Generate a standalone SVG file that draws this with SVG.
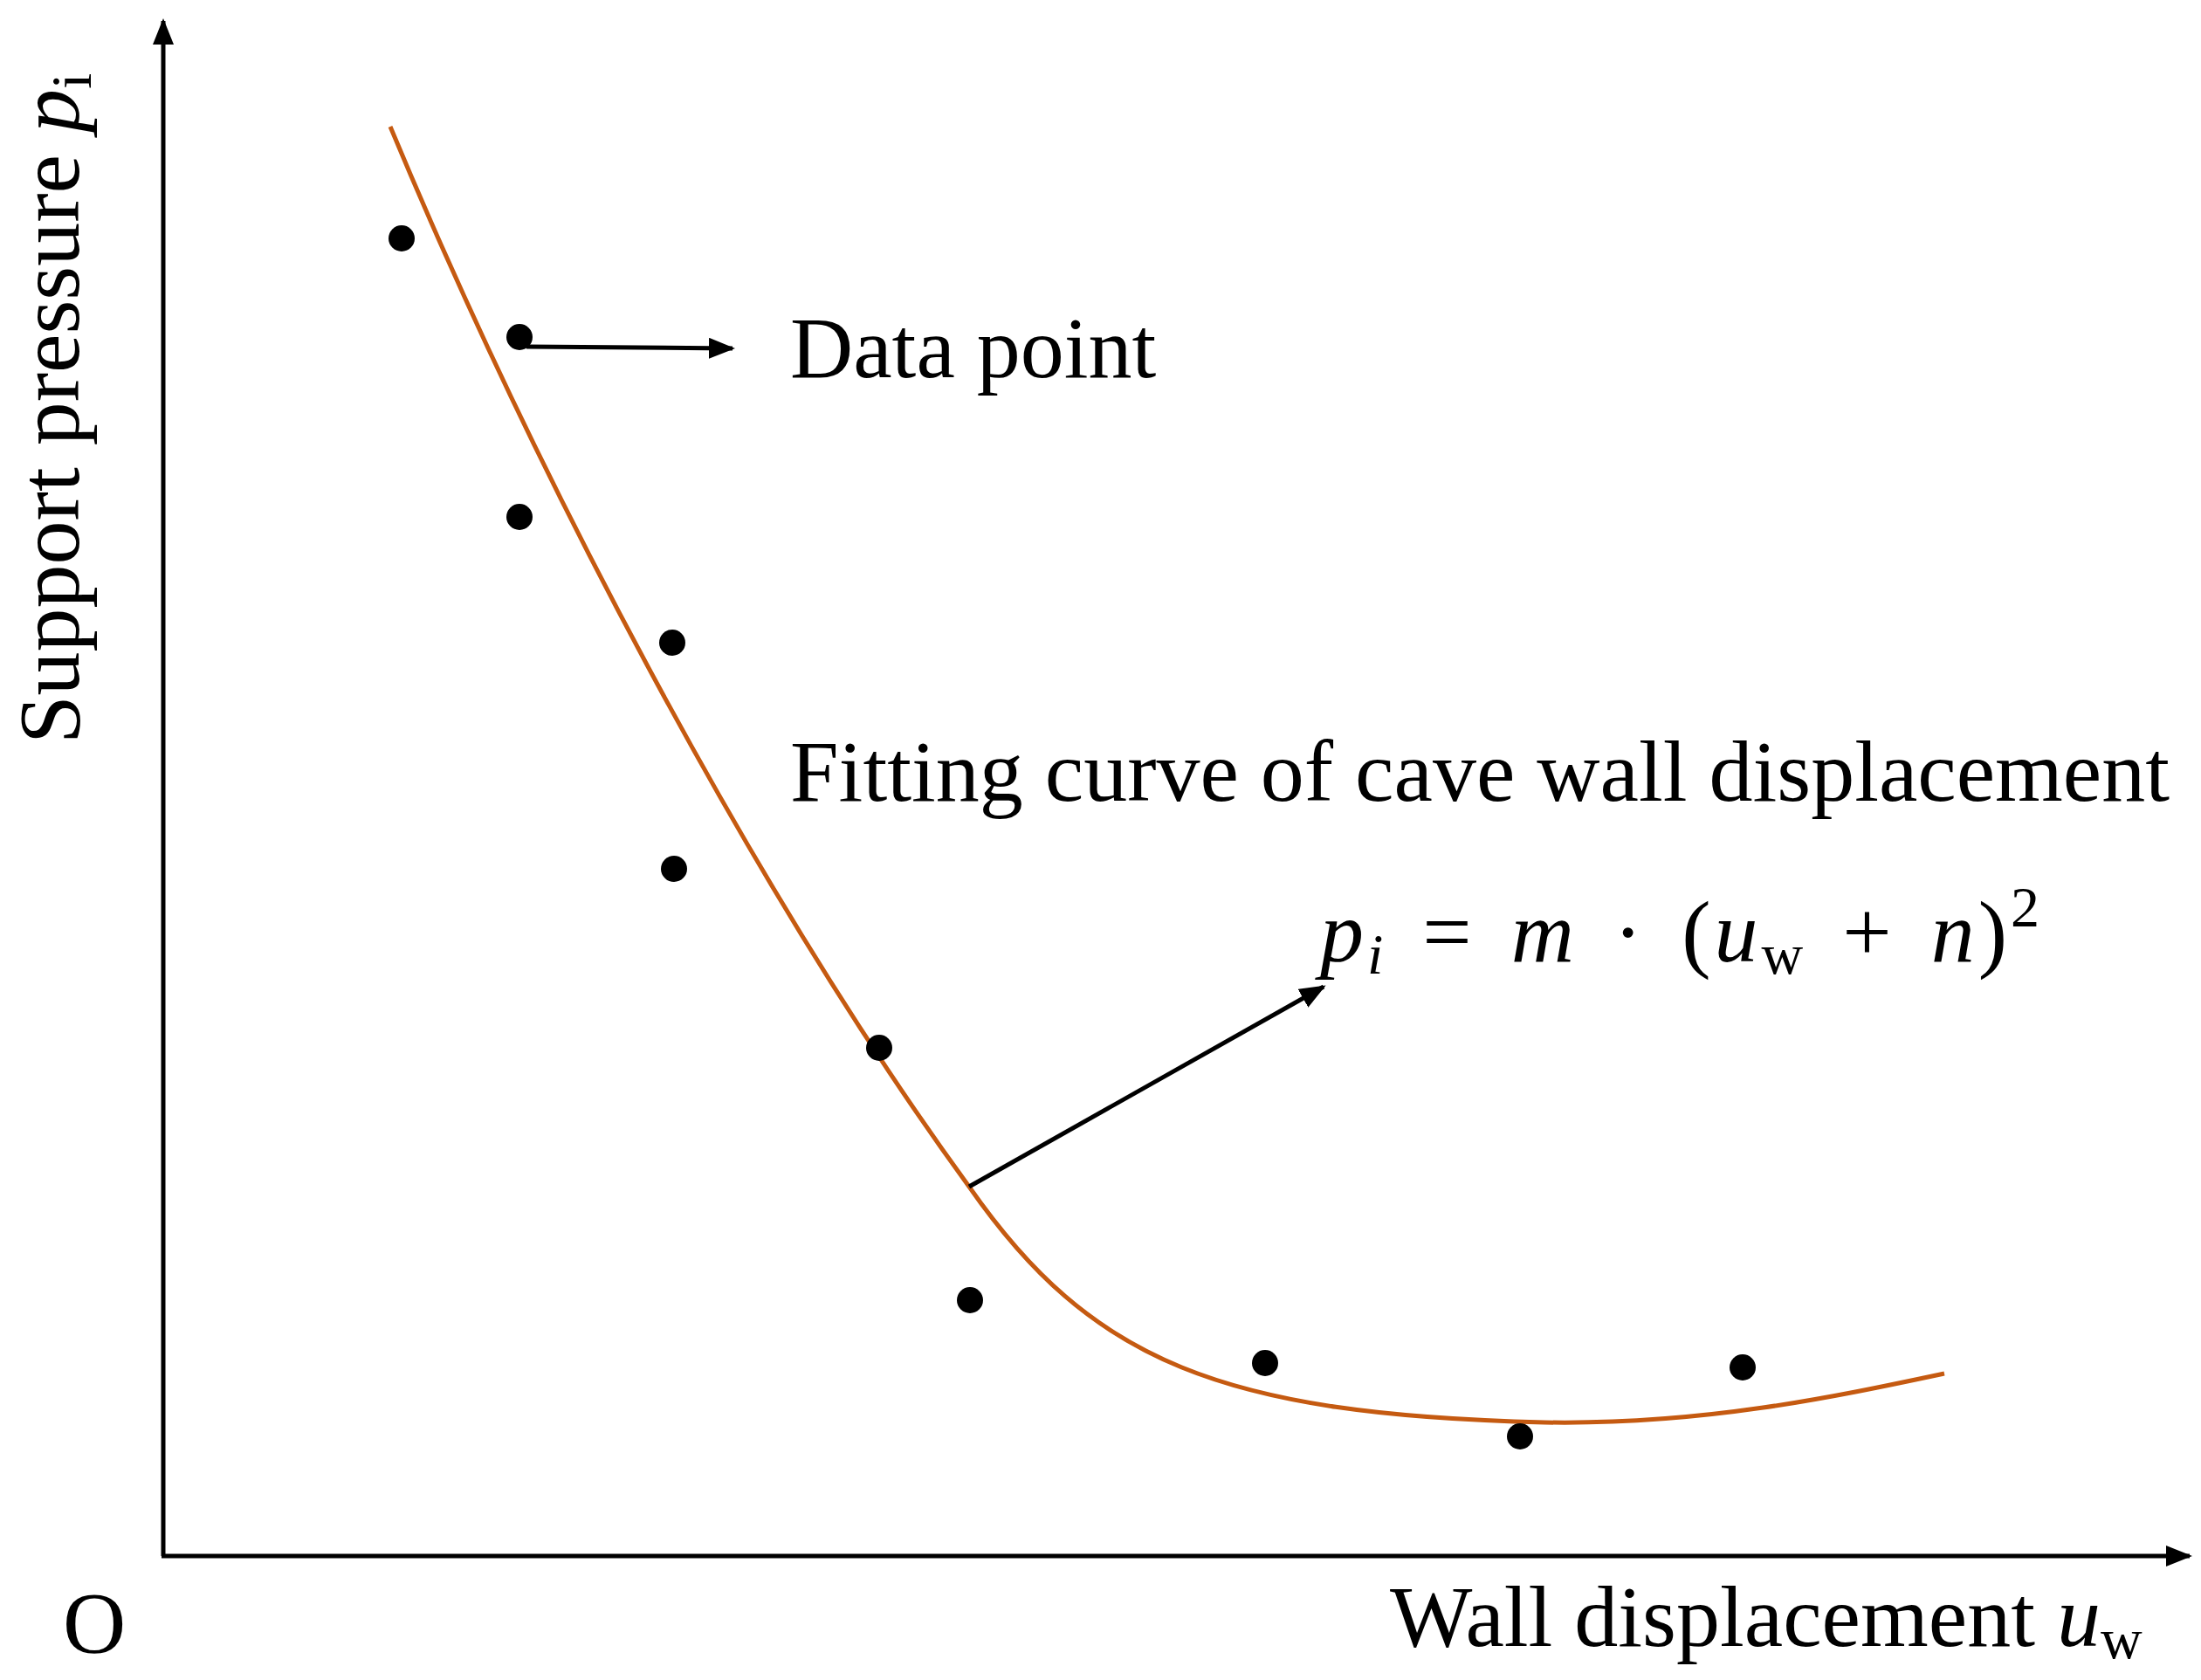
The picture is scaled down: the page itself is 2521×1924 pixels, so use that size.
<svg xmlns="http://www.w3.org/2000/svg" width="2521" height="1924" viewBox="0 0 2521 1924">
<defs>
<marker id="ahs" viewBox="0 0 10 8" refX="9" refY="4" markerWidth="30" markerHeight="24" orient="auto" markerUnits="userSpaceOnUse"><path d="M0,0 L10,4 L0,8 z" fill="#000"/></marker>
<style>
.t{font-family:"Liberation Serif",serif;font-size:100px;fill:#000}
.ax{stroke:#000;stroke-width:5;fill:none}
.dot{fill:#000}
</style>
</defs>
<rect width="2521" height="1924" fill="#fff"/>
<g id="axes">
<line class="ax" x1="187" y1="1782" x2="187" y2="24" marker-end="url(#ahs)"/>
<line class="ax" x1="185" y1="1782" x2="2508" y2="1782" marker-end="url(#ahs)"/>
<text class="t" x="72" y="1892">O</text>
<text class="t" x="1592" y="1885">Wall displacement <tspan font-style="italic">u</tspan><tspan font-size="66" dy="14">w</tspan></text>
<text class="t" transform="translate(90,852) rotate(-90)">Support pressure <tspan font-style="italic">p</tspan><tspan font-size="66" dy="14">i</tspan></text>
</g>
<g id="curve">
<path d="M447,145 C620,560 870,1030 1110,1359 C1250,1560 1400,1620 1769,1629 C1950,1632 2100,1600 2227,1573" fill="none" stroke="#C55A11" stroke-width="5"/>
</g>
<g id="points">
<circle class="dot" cx="460" cy="273" r="15"/>
<circle class="dot" cx="595" cy="386" r="15"/>
<circle class="dot" cx="595" cy="592" r="15"/>
<circle class="dot" cx="770" cy="736" r="15"/>
<circle class="dot" cx="772" cy="995" r="15"/>
<circle class="dot" cx="1007" cy="1200" r="15"/>
<circle class="dot" cx="1111" cy="1489" r="15"/>
<circle class="dot" cx="1449" cy="1561" r="15"/>
<circle class="dot" cx="1741" cy="1645" r="15"/>
<circle class="dot" cx="1996" cy="1566" r="15"/>
</g>
<g id="connectors">
<line class="ax" x1="603" y1="397" x2="839" y2="399" marker-end="url(#ahs)"/>
<line class="ax" x1="1110" y1="1359" x2="1516" y2="1130" marker-end="url(#ahs)"/>
</g>
<g id="labels">
<text class="t" x="905" y="432">Data point</text>
<text class="t" x="905" y="917">Fitting curve of cave wall displacement</text>
<text class="t" x="1512" y="1101" letter-spacing="4" word-spacing="12"><tspan font-style="italic">p</tspan><tspan font-style="italic" font-size="66" dy="14">i</tspan><tspan dy="-14"> = </tspan><tspan font-style="italic">m</tspan> · (<tspan font-style="italic">u</tspan><tspan font-size="66" dy="14">w</tspan><tspan dy="-14"> + </tspan><tspan font-style="italic">n</tspan>)<tspan font-size="66" dy="-40">2</tspan></text>
</g>
</svg>
